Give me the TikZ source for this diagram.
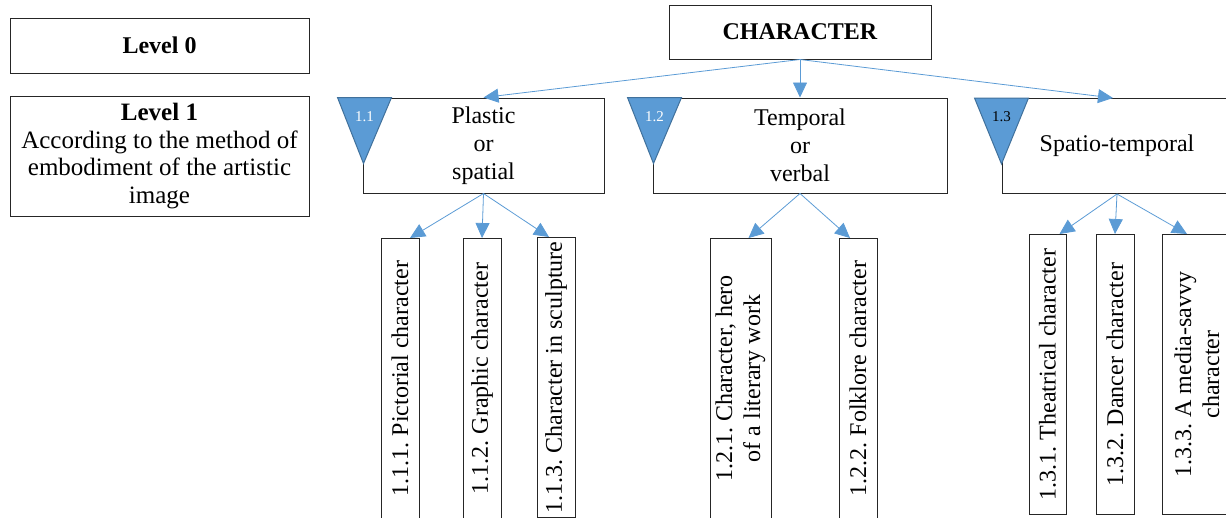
\documentclass[tikz,border=0pt]{standalone}
\usepackage{fontspec}
\setmainfont{Liberation Serif}
\usetikzlibrary{arrows.meta}
\frenchspacing
\definecolor{linkblue}{HTML}{5B9BD5}
\definecolor{markblue}{HTML}{41719C}
\tikzset{
    box/.style={draw=black!85, line width=1pt, inner sep=0pt, align=center,
      font=\fontsize{24}{28}\selectfont},
    leaf/.style={box, rotate=90, anchor=east, minimum width=280pt},
    link/.style={draw=linkblue, line width=0.8pt, -{Triangle[width=14pt, length=15pt]}},
    marktri/.style={fill=linkblue, draw=markblue, line width=1pt},
    marktext/.style={inner sep=0pt, font=\fontsize{15}{17}\selectfont}
}
\begin{document}
\begin{tikzpicture}[x=1pt, y=-1pt]
    \clip (0,0) rectangle (1226,517);
      \node (lvl0) [box, minimum width=299pt, minimum height=55pt] at (159.5,45.5) {\textbf{Level 0}};
      \node (lvl1) [box, minimum width=299pt, minimum height=120pt, font=\fontsize{25}{27.5}\selectfont] at (159.5,156)
        {\textbf{Level 1}\\According to the method of\\embodiment of the artistic\\image};

      \node (char) [box, minimum width=262pt, minimum height=54pt] at (800,32) {\textbf{CHARACTER}};

      \node (p11) [box, minimum width=241pt, minimum height=95pt] at (483.5,145.5) {Plastic\\or\\spatial};
      \node (p12) [box, minimum width=294pt, minimum height=95pt] at (800,145.5) {Temporal\\or\\verbal};
      \node (p13) [box, minimum width=230pt, minimum height=95pt] at (1117,146) {Spatio-temporal};

      \filldraw[marktri] (p11.north west) ++(-25,0) -- ++(54,0) -- ++(-28,66) -- cycle;
      \filldraw[marktri] (p12.north west) ++(-25,0) -- ++(54,0) -- ++(-28,66) -- cycle;
      \filldraw[marktri] (p13.north west) ++(-27,0) -- ++(54,0) -- ++(-27,66) -- cycle;
      \node (m11) [marktext, text=white] at ([shift={(2pt,-19pt)}]p11.north west) {1.1};
      \node (m12) [marktext, text=white] at ([shift={(2pt,-19pt)}]p12.north west) {1.2};
      \node (m13) [marktext, text=black] at ([shift={(0pt,-19pt)}]p13.north west) {1.3};

      \node (l111) [leaf, minimum height=38pt] at (400,238) {1.1.1. Pictorial character};
      \node (l112) [leaf, minimum height=38pt] at (482,238) {1.1.2. Graphic character};
      \node (l113) [leaf, minimum height=38pt] at (556,237) {1.1.3. Character in sculpture};
      \node (l121) [leaf, minimum height=61pt] at (740.5,238) {1.2.1. Character, hero\\of a literary work};
      \node (l122) [leaf, minimum height=38pt] at (858,238) {1.2.2. Folklore character};
      \node (l131) [leaf, minimum height=37pt] at (1047.5,234) {1.3.1. Theatrical character};
      \node (l132) [leaf, minimum height=38pt] at (1115,234) {1.3.2. Dancer character};
      \node (l133) [leaf, minimum height=70pt] at (1197,234) {1.3.3. A media-savvy\\character};

      \draw[link] (char.south) -- (p11.north);
      \draw[link] (char.south) -- (p12.north);
      \draw[link] (char.south) -- ([xshift=-4pt]p13.north);

      \draw[link] (p11.south) -- ([xshift=10pt]l111.east);
      \draw[link] (p11.south) -- (l112.east);
      \draw[link] (p11.south) -- ([xshift=-7pt]l113.east);
      \draw[link] (p12.south) -- ([xshift=8pt]l121.east);
      \draw[link] (p12.south) -- ([xshift=-8pt]l122.east);
      \draw[link] (p13.south) -- ([xshift=12pt]l131.east);
      \draw[link] (p13.south) -- (l132.east);
      \draw[link] (p13.south) -- ([xshift=-10pt]l133.east);
\end{tikzpicture}
\end{document}
